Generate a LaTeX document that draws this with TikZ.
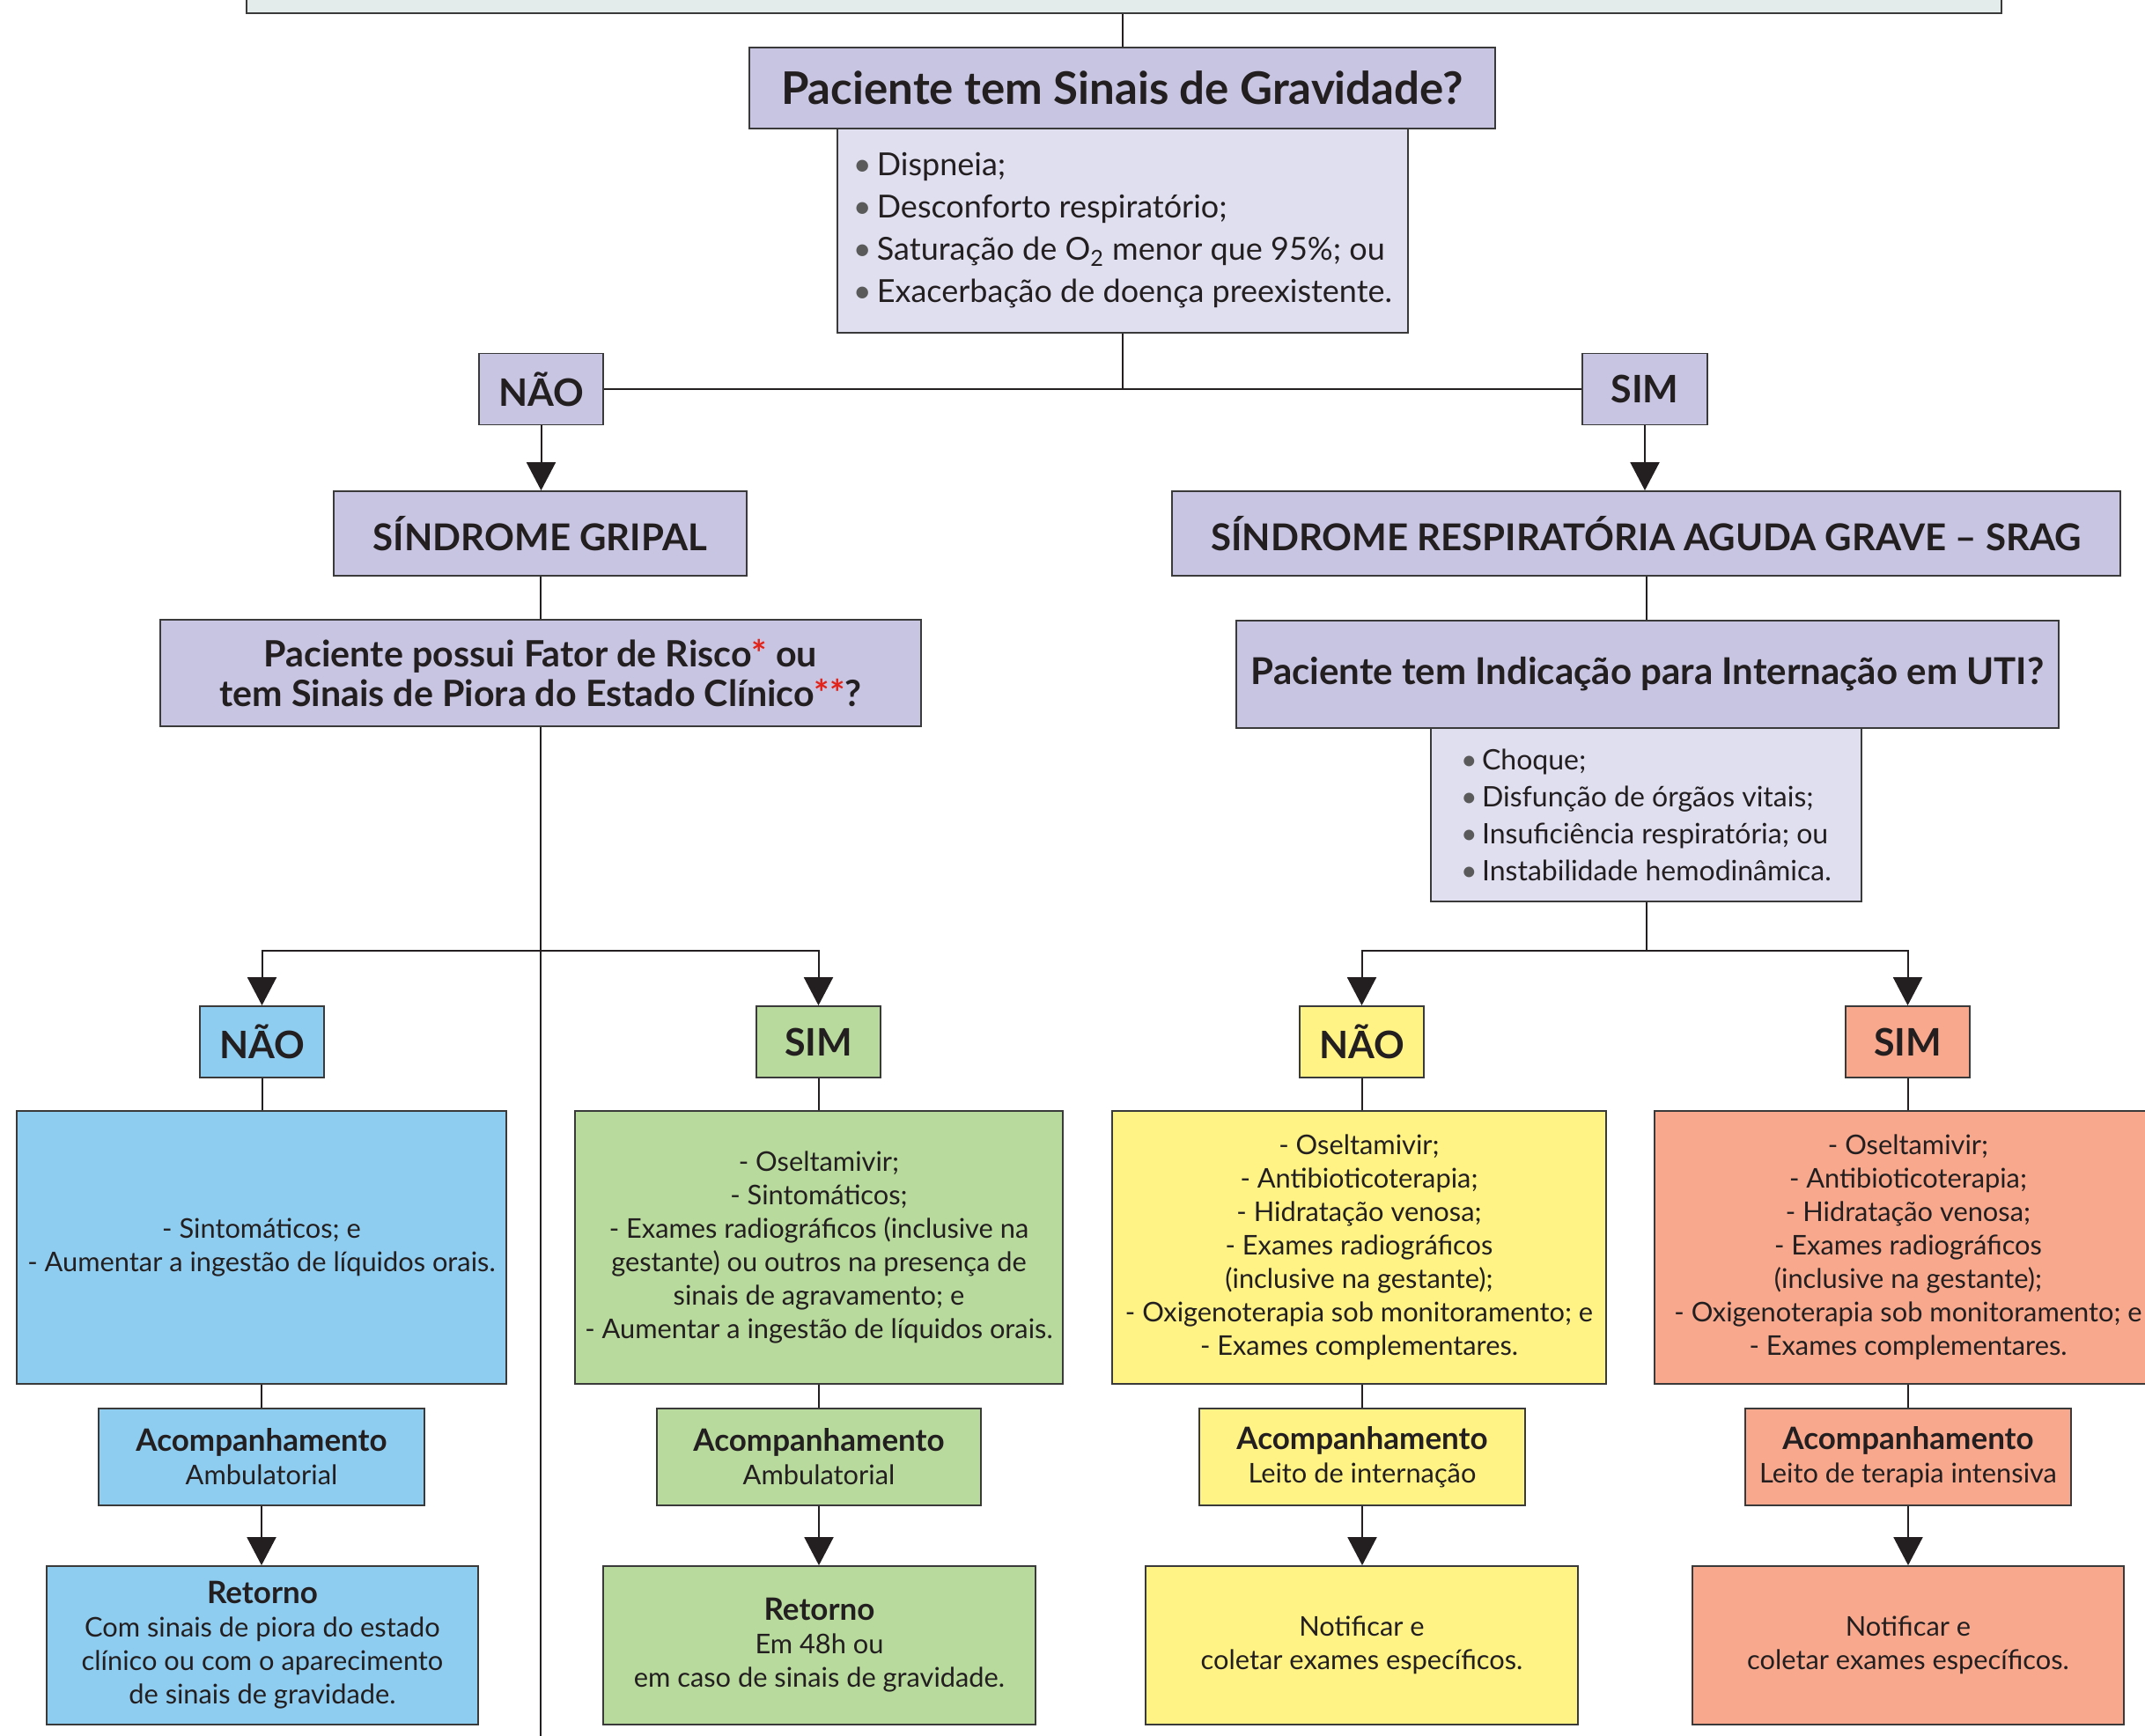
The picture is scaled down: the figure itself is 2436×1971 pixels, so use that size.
\documentclass[tikz,border=0pt]{standalone}
\usepackage{fontspec}
\setmainfont{Lato}
\usetikzlibrary{arrows.meta}
\definecolor{lav}{HTML}{C8C5E2}
\definecolor{lavl}{HTML}{E0DFF0}
\definecolor{topc}{HTML}{E3ECEA}
\definecolor{blu}{HTML}{8FCDF0}
\definecolor{grn}{HTML}{B8DA9C}
\definecolor{yel}{HTML}{FFF385}
\definecolor{sal}{HTML}{F8A98D}
\definecolor{bord}{HTML}{3A3A3A}
\definecolor{txt}{HTML}{231F20}
\definecolor{ast}{HTML}{E2231A}
\definecolor{bulc}{HTML}{5A5A5A}
\newcommand\mybul{{\color{bulc}\textbullet}\,}
\newcommand\hb[1]{{\bfseries\fontsize{17.5}{19}\selectfont #1}}
\tikzset{
 box/.style={draw=bord, line width=0.9pt, inner sep=0pt, align=center, text=txt},
 conn/.style={draw=txt, line width=1pt},
 arr/.style={conn, -{Triangle[width=16.5pt,length=16pt]}},
 ttl/.style={font=\bfseries\fontsize{25.5}{28}\selectfont},
 hdr/.style={font=\bfseries\fontsize{21}{22.5}\selectfont},
 lbl/.style={box, minimum width=70.5pt, minimum height=40.5pt, font=\bfseries\fontsize{21.5}{22}\selectfont},
 body/.style={box, minimum height=155pt, font=\fontsize{15.4}{19}\selectfont},
 acomp/.style={box, minimum height=55pt, font=\fontsize{15.4}{19}\selectfont},
 ret/.style={box, minimum height=90pt, font=\fontsize{15.4}{19}\selectfont},
}
\begin{document}
\begin{tikzpicture}[x=0.5pt,y=-0.5pt]
\useasboundingbox (0,0) rectangle (2436,1971);
% top
\node[box, fill=topc, minimum width=996.5pt, minimum height=17.5pt] (top) at (1276.5,-2.5) {};
\node[box, fill=lavl, minimum width=324pt, minimum height=116pt, align=left, font=\fontsize{18}{24}\selectfont] (b1) at (1275,262)
 {\mybul Dispneia;\\ \mybul Desconforto respiratório;\\ \mybul Saturação de O\textsubscript{2} menor que 95\%; ou\\ \mybul Exacerbação de doença preexistente.};
\node[box, fill=lav, minimum width=423.5pt, minimum height=46pt, ttl] (q1) at (1274.5,100) {Paciente tem Sinais de Gravidade?};
\node[lbl, fill=lav] (n1) at (614.5,442) {NÃO};
\node[lbl, fill=lav, minimum width=71pt] (s1) at (1868,442) {SIM};
\node[box, fill=lav, minimum width=234.5pt, minimum height=48pt, hdr] (sg) at (613.5,606) {SÍNDROME GRIPAL};
\node[box, fill=lav, minimum width=538.5pt, minimum height=48pt, hdr] (srag) at (1869.5,606) {SÍNDROME RESPIRATÓRIA AGUDA GRAVE – SRAG};
\node[box, fill=lav, minimum width=432pt, minimum height=60.5pt, hdr, font=\bfseries\fontsize{20.6}{22.5}\selectfont] (q2) at (614,764.5)
 {Paciente possui Fator de Risco\textcolor{ast}{*} ou\\tem Sinais de Piora do Estado Clínico\textcolor{ast}{**}?};
\node[box, fill=lavl, minimum width=244.5pt, minimum height=98.5pt, align=left, font=\fontsize{16}{21}\selectfont] (b2) at (1869.5,925.5)
 {\mybul Choque;\\ \mybul Disfunção de órgãos vitais;\\ \mybul Insuficiência respiratória; ou\\ \mybul Instabilidade hemodinâmica.};
\node[box, fill=lav, minimum width=467pt, minimum height=61pt, hdr] (q3) at (1871,766) {Paciente tem Indicação para Internação em UTI?};
% small labels
\node[lbl, fill=blu] (nb) at (297.5,1183.5) {NÃO};
\node[lbl, fill=grn] (sgr) at (929.5,1183.5) {SIM};
\node[lbl, fill=yel] (ny) at (1546.5,1183.5) {NÃO};
\node[lbl, fill=sal] (ss) at (2166.5,1183.5) {SIM};
% body boxes
\node[body, fill=blu, minimum width=278pt] (bb) at (297,1417)
 {- Sintomáticos; e\\- Aumentar a ingestão de líquidos orais.};
\node[body, fill=grn, minimum width=277pt] (bg) at (930,1417)
 {- Oseltamivir;\\- Sintomáticos;\\- Exames radiográficos (inclusive na\\gestante) ou outros na presença de\\sinais de agravamento; e\\- Aumentar a ingestão de líquidos orais.};
\node[body, fill=yel, minimum width=280.5pt] (by) at (1543.5,1417)
 {- Oseltamivir;\\- Antibioticoterapia;\\- Hidratação venosa;\\- Exames radiográficos\\(inclusive na gestante);\\- Oxigenoterapia sob monitoramento; e\\- Exames complementares.};
\node[body, fill=sal, minimum width=288pt] (bs) at (2167,1417)
 {- Oseltamivir;\\- Antibioticoterapia;\\- Hidratação venosa;\\- Exames radiográficos\\(inclusive na gestante);\\- Oxigenoterapia sob monitoramento; e\\- Exames complementares.};
% acompanhamento
\node[acomp, fill=blu, minimum width=185pt] (ab) at (297,1655) {\hb{Acompanhamento}\\Ambulatorial};
\node[acomp, fill=grn, minimum width=184pt] (ag) at (930,1655) {\hb{Acompanhamento}\\Ambulatorial};
\node[acomp, fill=yel, minimum width=185pt] (ay) at (1547,1655) {\hb{Acompanhamento}\\Leito de internação};
\node[acomp, fill=sal, minimum width=185pt] (as) at (2167,1655) {\hb{Acompanhamento}\\Leito de terapia intensiva};
% retorno
\node[ret, fill=blu, minimum width=245pt] (rb) at (298,1869)
 {\hb{Retorno}\\Com sinais de piora do estado\\clínico ou com o aparecimento\\de sinais de gravidade.};
\node[ret, fill=grn, minimum width=245.5pt] (rg) at (930.5,1869)
 {\hb{Retorno}\\Em 48h ou\\em caso de sinais de gravidade.};
\node[ret, fill=yel, minimum width=245.5pt] (ry) at (1546.5,1869)
 {Notificar e\\coletar exames específicos.};
\node[ret, fill=sal, minimum width=245pt] (rs) at (2167,1869)
 {Notificar e\\coletar exames específicos.};
% connectors
\draw[conn] (q1.north) -- (q1.north |- top.south);
\draw[conn] (b1.south) -- (b1.south |- n1.east);
\draw[conn] (n1.east) -- (s1.west);
\draw[arr] (n1.south) -- (n1.south |- sg.north);
\draw[arr] (s1.south) -- (s1.south |- srag.north);
\draw[conn] (sg.south) -- (sg.south |- q2.north);
\draw[conn] (srag.south) -- (srag.south |- q3.north);
\coordinate (trunkend) at (614,1995);
\coordinate (jl) at (614,1080);
\coordinate (jr) at (1869.5,1080);
\draw[conn] (q2.south -| jl) -- (trunkend);
\draw[arr] (jl) -| (nb.north);
\draw[arr] (jl) -| (sgr.north);
\draw[conn] (b2.south) -- (jr);
\draw[arr] (jr) -| (ny.north);
\draw[arr] (jr) -| (ss.north);
\foreach \s/\b/\a/\r in {nb/bb/ab/rb, sgr/bg/ag/rg, ny/by/ay/ry, ss/bs/as/rs}{
 \draw[conn] (\s.south) -- (\s.south |- \b.north);
 \draw[conn] (\a.north |- \b.south) -- (\a.north);
 \draw[arr] (\a.south) -- (\a.south |- \r.north);
}
\end{tikzpicture}
\end{document}
